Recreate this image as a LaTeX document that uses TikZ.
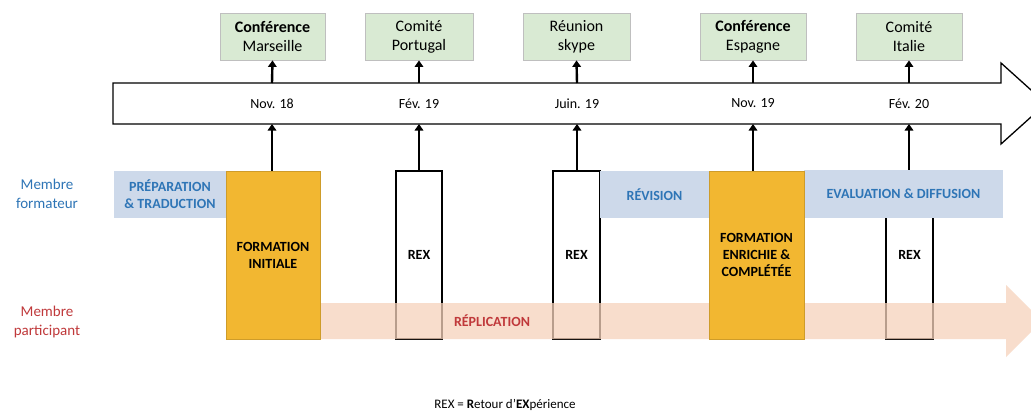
\documentclass[tikz,border=0pt]{standalone}
\usepackage{fontspec}
\setmainfont{Carlito}
\usetikzlibrary{arrows.meta}
\definecolor{gfill}{HTML}{D9EAD3}
\definecolor{gline}{HTML}{BFBFBF}
\definecolor{bfill}{HTML}{CDD9EA}
\definecolor{btext}{HTML}{2E75B6}
\definecolor{ofill}{HTML}{F2B731}
\definecolor{rfill}{HTML}{F6D2BB}
\definecolor{rtext}{HTML}{C0393B}
\tikzset{
  greenbox/.style={draw=gline, line width=0.8, fill=gfill, minimum height=47, inner sep=0, align=center, font=\fontsize{16}{19}\selectfont},
  bluebox/.style={fill=bfill, minimum height=47, inner sep=0, align=center, text=btext, font=\fontsize{14}{17}\selectfont\bfseries},
  orangebox/.style={fill=ofill, draw=ofill!85!black, line width=0.4, minimum height=168, inner sep=0, align=center, font=\fontsize{14}{17}\selectfont\bfseries},
  rexbox/.style={fill=white, draw=black, line width=1.2, minimum width=46, minimum height=168, inner sep=0, align=center, font=\fontsize{14}{17}\selectfont\bfseries},
  datelabel/.style={inner sep=0, font=\fontsize{14}{17}\selectfont},
  sidelabel/.style={inner sep=0, align=center, font=\fontsize{15}{19}\selectfont},
  uparrow/.style={line width=2.4, -{Triangle[length=6.5pt,width=8.5pt]}},
}
\begin{document}
\begin{tikzpicture}[x=1pt,y=-1pt]
\clip (0,0) rectangle (1031,412);
\fill[white] (0,0) rectangle (1031,412);

% top boxes
\node[greenbox, minimum width=105] (c1) at (272.5,36.5) {\textbf{Conférence}\\Marseille};
\node[greenbox, minimum width=108] (c2) at (419,36.5) {Comité\\Portugal};
\node[greenbox, minimum width=107] (c3) at (576.5,36.5) {Réunion\\skype};
\node[greenbox, minimum width=106] (c4) at (753,36.5) {\textbf{Conférence}\\Espagne};
\node[greenbox, minimum width=106] (c5) at (909,36.5) {Comité\\Italie};

% timeline arrow
\draw[fill=white, line width=1.3, line join=miter] (113,83) -- (1001,83) -- (1001,63) -- (1046,103.5) -- (1001,144) -- (1001,124) -- (113,124) -- cycle;
\node[datelabel] (d1) at (272,103.5) {Nov. 18};
\node[datelabel] (d2) at (419,103.5) {Fév. 19};
\node[datelabel] (d3) at (577,103.5) {Juin. 19};
\node[datelabel] (d4) at (753,103.5) {Nov. 19};
\node[datelabel] (d5) at (909,103.5) {Fév. 20};
\foreach \i/\x in {1/272,2/419,3/577,4/753,5/909}{
  \coordinate (t\i) at (\x,83);
  \coordinate (b\i) at (\x,124);
}

% REX boxes (under replication arrow)
\node[rexbox] (r1) at (419,255) {REX};
\node[rexbox, minimum width=47] (r2) at (576.5,255) {REX};
\node[rexbox, minimum width=47] (r3) at (909.5,255) {REX};

% replication arrow
\fill[rfill, fill opacity=0.75] (320,303) -- (1006,303) -- (1006,285) -- (1042,321) -- (1006,357) -- (1006,339) -- (320,339) -- cycle;
\node[inner sep=0, text=rtext, font=\fontsize{14}{17}\selectfont\bfseries] (rep) at (492,321) {RÉPLICATION};

% phases
\node[bluebox, minimum width=112] (prep) at (170,194.5) {PRÉPARATION\\\& TRADUCTION};
\node[bluebox, minimum width=109] (rev) at (654.5,194.5) {RÉVISION};
\node[bluebox, minimum width=199, minimum height=48] (eval) at (903.5,194) {EVALUATION \& DIFFUSION};
\node[orangebox, minimum width=94] (fi) at (273,255) {FORMATION\\INITIALE};
\node[orangebox, minimum width=95] (fe) at (756.5,255) {FORMATION\\ENRICHIE \&\\COMPLÉTÉE};

% side labels
\node[sidelabel, text=btext] (mf) at (47,194) {Membre\\formateur};
\node[sidelabel, text=rtext] (mp) at (47,322) {Membre\\participant};

% arrows
\draw[uparrow] (t1) -- (c1.south);
\draw[uparrow] (t2) -- (c2.south);
\draw[uparrow] (t3) -- (c3.south);
\draw[uparrow] (t4) -- (c4.south);
\draw[uparrow] (t5) -- (c5.south);
\draw[uparrow] (fi.north -| b1) -- (b1);
\draw[uparrow] (r1.north) -- (b2);
\draw[uparrow] (r2.north -| b3) -- (b3);
\draw[uparrow] (fe.north -| b4) -- (b4);
\draw[uparrow] (eval.north -| b5) -- (b5);

% legend
\node[inner sep=0, font=\fontsize{13}{15}\selectfont] (leg) at (505,405) {REX = \textbf{R}etour d’\textbf{EX}périence};
\end{tikzpicture}
\end{document}
